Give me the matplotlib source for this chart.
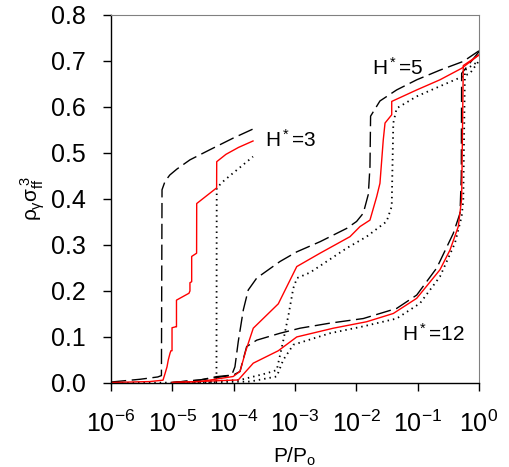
import numpy as np
import matplotlib
matplotlib.use("Agg")
from matplotlib import pyplot as plt
from matplotlib.ticker import LogLocator, LogFormatterSciNotation, NullLocator, FormatStrFormatter

plt.rcParams['font.family'] = 'Liberation Sans'
plt.rcParams['mathtext.fontset'] = 'custom'
plt.rcParams['mathtext.rm'] = 'Liberation Sans'
plt.rcParams['mathtext.it'] = 'Liberation Sans'
plt.rcParams['mathtext.sf'] = 'Liberation Sans'

# H*=3
p3_dash = [1e-6, 3.0e-6, 5.8e-6, 6.65e-6, 6.8e-6, 7.6e-6, 9.1e-6, 1.19e-5, 1.94e-5, 4.1e-5, 9.75e-5, 2.07e-4]
y3_dash = [0.002, 0.008, 0.013, 0.016, 0.42, 0.438, 0.452, 0.465, 0.485, 0.507, 0.532, 0.552]

p3_red = [1e-6, 4.3e-6, 7.05e-6, 7.6e-6, 8.2e-6, 8.6e-6, 9.2e-6, 9.5e-6, 9.9e-6, 9.9e-6, 1.13e-5, 1.17e-5,
          1.17e-5, 1.87e-5, 1.94e-5, 1.94e-5, 2.07e-5, 2.07e-5, 2.49e-5, 2.5e-5, 5.28e-5, 5.3e-5, 7.5e-5,
          1.2e-4, 2.07e-4]
y3_red = [0.001, 0.003, 0.006, 0.02, 0.035, 0.05, 0.065, 0.07, 0.07, 0.12, 0.122, 0.122,
          0.18, 0.195, 0.2, 0.218, 0.22, 0.275, 0.282, 0.39, 0.424, 0.481, 0.497,
          0.512, 0.526]

p3_dot = [1e-6, 3e-5, 5.25e-5, 5.3e-5, 7e-5, 9.75e-5, 2.07e-4]
y3_dot = [0.0, 0.001, 0.002, 0.424, 0.44, 0.456, 0.492]

# H*=5
p5_dash = [1e-5, 2.83e-5, 5.28e-5, 9.3e-5, 1.05e-4, 1.19e-4, 1.44e-4, 1.73e-4, 2.38e-4, 5.7e-4, 1.07e-3,
           2.56e-3, 6.97e-3, 1.01e-2, 1.30e-2, 1.57e-2, 1.67e-2, 1.71e-2, 2.43e-2, 4.55e-2, 9.66e-2,
           0.231, 0.555, 1.0]
y5_dash = [0.001, 0.0065, 0.0137, 0.017, 0.035, 0.09, 0.159, 0.202, 0.228, 0.264, 0.285,
           0.307, 0.336, 0.351, 0.369, 0.41, 0.47, 0.58, 0.613, 0.637, 0.659,
           0.68, 0.699, 0.722]

p5_red = [1e-5, 2.83e-5, 9.84e-5, 1.27e-4, 1.58e-4, 2.09e-4, 5.35e-4, 1.07e-3, 2.56e-3, 7.89e-3, 1.15e-2,
          1.67e-2, 2.15e-2, 2.43e-2, 2.75e-2, 2.94e-2, 3.78e-2, 3.78e-2, 9.66e-2, 0.231, 0.522, 1.0]
y5_red = [0.001, 0.003, 0.014, 0.025, 0.07, 0.119, 0.172, 0.253, 0.282, 0.318, 0.34,
          0.354, 0.405, 0.434, 0.528, 0.565, 0.583, 0.612, 0.637, 0.659, 0.684, 0.713]

p5_dot = [1e-5, 1.27e-4, 3.46e-4, 5.04e-4, 6.4e-4, 7.9e-4, 9.39e-4, 1.08e-3, 1.76e-3, 6.97e-3, 1.47e-2,
          3.12e-2, 3.78e-2, 4.01e-2, 4.55e-2, 9.66e-2, 0.231, 0.714, 1.0]
y5_dot = [0.0, 0.0065, 0.021, 0.028, 0.09, 0.15, 0.206, 0.228, 0.24, 0.293, 0.318,
          0.351, 0.384, 0.565, 0.597, 0.623, 0.645, 0.673, 0.70]

# H*=12
p12_dash = [1e-5, 2.83e-5, 9.84e-5, 1.27e-4, 1.63e-4, 2.38e-4, 5.7e-4, 1.21e-3, 3.72e-3, 1.30e-2, 4.55e-2,
            9.66e-2, 0.205, 0.381, 0.491, 0.515, 0.522, 1.0]
y12_dash = [0.001, 0.0065, 0.017, 0.025, 0.079, 0.093, 0.108, 0.119, 0.13, 0.14, 0.162,
            0.191, 0.25, 0.325, 0.369, 0.45, 0.673, 0.72]

p12_red = [1e-5, 1.19e-4, 2.09e-4, 5.35e-4, 1.07e-3, 4.22e-3, 1.47e-2, 4.01e-2, 9.66e-2, 0.231, 0.337,
           0.46, 0.522, 0.555, 1.0]
y12_red = [0.001, 0.0065, 0.043, 0.07, 0.1, 0.119, 0.133, 0.151, 0.184, 0.246, 0.289,
           0.34, 0.40, 0.69, 0.713]

p12_dot = [1e-5, 1.85e-4, 5.04e-4, 6.44e-4, 9.39e-4, 3.72e-3, 1.30e-2, 4.55e-2, 0.109, 0.231, 0.406,
           0.522, 0.555, 0.59, 1.0]
y12_dot = [0.0, 0.003, 0.014, 0.05, 0.083, 0.108, 0.123, 0.14, 0.173, 0.231, 0.304,
           0.362, 0.398, 0.68, 0.70]

dash = dict(color='black', lw=1.0, linestyle=(0, (11, 4)))
red = dict(color='#ff0000', lw=1.0, linestyle='-')
dot = dict(color='black', lw=1.3, linestyle=(0, (0.8, 2.2)))

fig = plt.figure(figsize=(5.09, 4.67), dpi=100)
ax = fig.add_axes([0.218, 0.180, 0.723, 0.788])

for p, y, st in [(p3_dot, y3_dot, dot), (p5_dot, y5_dot, dot), (p12_dot, y12_dot, dot),
                 (p3_dash, y3_dash, dash), (p5_dash, y5_dash, dash), (p12_dash, y12_dash, dash),
                 (p3_red, y3_red, red), (p5_red, y5_red, red), (p12_red, y12_red, red)]:
    ax.plot(p, y, **st)

ax.set_xscale('log')
ax.set_xlim(1e-6, 1.0)
ax.set_ylim(0.0, 0.8)
ax.xaxis.set_major_locator(LogLocator(base=10, numticks=10))
ax.xaxis.set_major_formatter(LogFormatterSciNotation())
ax.xaxis.set_minor_locator(NullLocator())
ax.set_yticks(np.arange(0, 0.81, 0.1))
ax.yaxis.set_major_formatter(FormatStrFormatter('%.1f'))

ax.tick_params(axis='both', direction='out', length=6, width=1, labelsize=18, colors='black')
ax.tick_params(axis='x', pad=14)
ax.tick_params(axis='y', pad=12)
ax.spines['top'].set_color('#808080')
ax.spines['right'].set_color('#808080')
ax.spines['left'].set_linewidth(1)
ax.spines['bottom'].set_linewidth(1)

ax.set_xlabel('P/P$_o$', fontsize=15, labelpad=6)
ax.set_ylabel(r'$\rho_{\gamma}\sigma_{ff}^{\,3}$', fontsize=15, labelpad=3)

ax.text(3.2e-4, 0.528, 'H$^*$=3', fontsize=15, va='center', ha='left')
ax.text(1.8e-2, 0.685, 'H$^*$=5', fontsize=15, va='center', ha='left')
ax.text(5.5e-2, 0.107, 'H$^*$=12', fontsize=15, va='center', ha='left')

fig.savefig('out.png', dpi=100)
